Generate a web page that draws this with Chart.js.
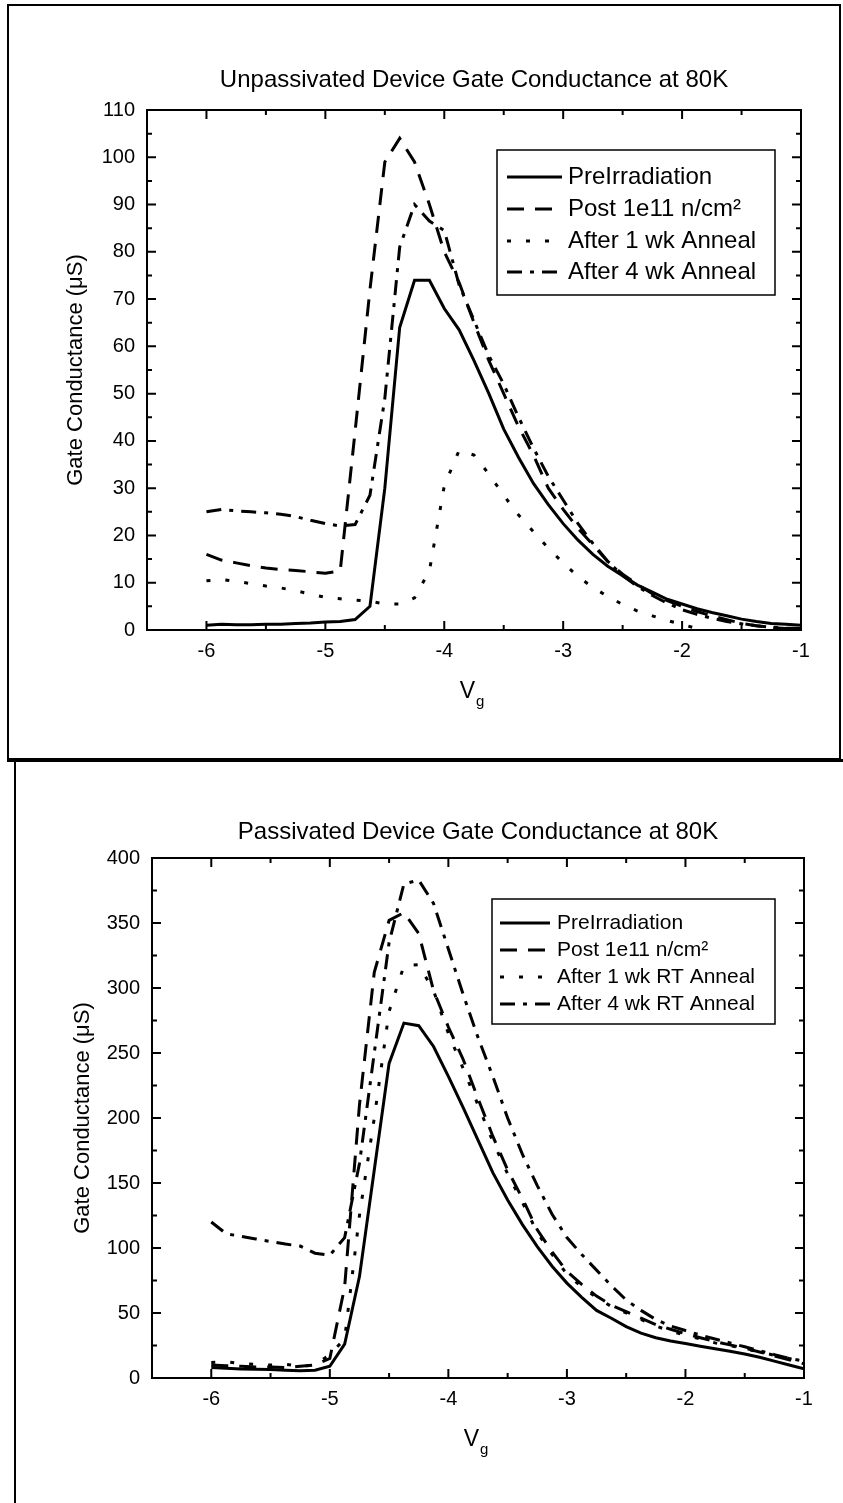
<!DOCTYPE html>
<html>
<head>
<meta charset="utf-8">
<script src="https://cdn.jsdelivr.net/npm/chart.js@4.4.1/dist/chart.umd.min.js"></script>
<style>
  body { margin: 0; background: #fff; width: 843px; height: 1503px; position: relative; overflow: hidden; }
  .frame { position: absolute; box-sizing: border-box; border: 2px solid #000; }
  #frame1 { left: 7px; top: 4px; width: 834px; height: 758px; border-bottom-width: 4px; }
  #frame2 { left: 14px; top: 759px; width: 900px; height: 800px; border-top-width: 3px; border-right: none; border-bottom: none; }
  canvas { position: absolute; left: 0; }
  #chartTop { top: 0; }
  #chartBottom { top: 760px; }
</style>
</head>
<body>
<div class="frame" id="frame1"></div>
<div class="frame" id="frame2"></div>
<canvas id="chartTop" width="843" height="760"></canvas>
<canvas id="chartBottom" width="843" height="743"></canvas>
<script>
// gate voltage (V) shared by every series
const vg = [-6, -5.875, -5.75, -5.625, -5.5, -5.375, -5.25, -5.125, -5, -4.875, -4.75, -4.625,
  -4.5, -4.375, -4.25, -4.125, -4, -3.875, -3.75, -3.625, -3.5, -3.375, -3.25, -3.125, -3,
  -2.875, -2.75, -2.625, -2.5, -2.375, -2.25, -2.125, -2, -1.875, -1.75, -1.625, -1.5,
  -1.375, -1.25, -1.125, -1];

// unpassivated device, gate conductance (uS)
const unpPre = [1.0, 1.2, 1.1, 1.1, 1.2, 1.2, 1.4, 1.5, 1.7, 1.8, 2.2, 5.0, 30, 64, 74, 74, 68,
  63.5, 57, 50, 42.5, 36.5, 31, 26.5, 22.5, 19, 16, 13.5, 11.5, 9.5, 8, 6.5, 5.5, 4.5, 3.7,
  3.0, 2.3, 1.8, 1.4, 1.2, 1.0];
const unpPost = [16, 14.8, 14.2, 13.6, 13.1, 12.8, 12.6, 12.3, 12.0, 12.5, 42, 72, 99, 104, 99,
  90, 80, 73.5, 65, 57, 50, 43, 37, 30, 25.5, 21.5, 18, 14.5, 11.8, 9.6, 7.7, 6.2, 5, 3.9,
  3.0, 2.2, 1.4, 0.9, 0.5, 0.3, 0.2];
const unp1wk = [10.4, 10.7, 10.3, 9.8, 9.3, 8.9, 8.3, 7.6, 6.9, 6.6, 6.3, 6.1, 5.5, 5.5, 6.8,
  12.5, 30.5, 38, 37, 33, 28.5, 24.3, 20.8, 17.3, 14.2, 11.3, 9.0, 7.1, 5.4, 4.0, 3.0, 2.0,
  1.2, 0.3, null, null, null, null, null, null, null];
const unp4wk = [25.0, 25.5, 25.2, 25.0, 24.8, 24.5, 24.0, 23.2, 22.5, 22.0, 22.3, 28.5, 49, 81,
  90, 86.5, 84.5, 73, 65.5, 58, 52, 45, 38.5, 32.5, 27.5, 22.5, 18.3, 14.5, 11.5, 9.2, 7.3,
  5.7, 4.3, 3.3, 2.5, 1.8, 1.3, 0.9, 0.6, 0.4, 0.3];

// passivated device, gate conductance (uS)
const pasPre = [8, 7.5, 7, 6.8, 6.5, 6, 5.5, 6, 9, 26, 78, 160, 242, 273, 271, 255, 232, 208,
  183, 158, 137, 118, 101, 86, 73, 62, 52, 46, 39.5, 34.5, 31, 28.5, 26.5, 24.5, 22.5, 20.5,
  18.5, 16, 13, 10, 7];
const pasPost = [10, 9.5, 9, 8.5, 8.5, 8, 9, 10, 15, 70, 210, 312, 352, 358, 342, 298, 270, 245,
  215, 186, 160, 138, 114, 97, 82, 72, 63, 56, 51, 46, 41, 37.5, 34, 31, 28, 25.5, 23, 20,
  17, 14, 11];
const pas1wk = [12, 12.5, 11, 10.5, 10, 10.5, 9, 10, 18, 30, 125, 200, 282, 317, 318, 298, 265,
  238, 210, 182, 157, 135, 112, 95, 80, 70, 62, 55, 50, 45, 40, 36, 33, 30, 27, 25, 22.5, 20,
  17.5, 15, 13];
const pas4wk = [120, 111, 109, 107, 105, 103, 101.5, 96, 94.5, 108, 165, 250, 335, 380, 383, 365,
  330, 295, 262, 232, 200, 172, 148, 126, 108, 95, 83, 71, 60, 52, 45, 40, 36.5, 33, 30, 27,
  24, 21, 18, 15, 13];

const namesTop = ['PreIrradiation', 'Post 1e11 n/cm²', 'After 1 wk Anneal', 'After 4 wk Anneal'];
const namesBottom = ['PreIrradiation', 'Post 1e11 n/cm²', 'After 1 wk RT Anneal', 'After 4 wk RT Anneal'];

const xMin = -6.5, xMax = -1;

// solid, dash, dot, dash-dot
const dashes = [[], [17, 11], [4, 15], [15, 8, 4, 8]];

Chart.defaults.font.family = "'Liberation Sans', Arial, sans-serif";
Chart.defaults.color = '#000';

// box round the plot with inward ticks on all four sides
const frameTicks = {
    id: 'frameTicks',
    afterDatasetsDraw(chart, args, opts) {
        const { ctx, chartArea: a, scales: { x, y } } = chart;
        ctx.save();
        ctx.strokeStyle = '#000';
        ctx.lineWidth = 2;
        ctx.strokeRect(a.left, a.top, a.right - a.left, a.bottom - a.top);
        ctx.beginPath();
        x.ticks.forEach(t => {
            const px = x.getPixelForValue(t.value);
            const len = Number.isInteger(t.value) ? 9 : 5;
            ctx.moveTo(px, a.bottom); ctx.lineTo(px, a.bottom - len);
            ctx.moveTo(px, a.top); ctx.lineTo(px, a.top + len);
        });
        y.ticks.forEach(t => {
            const py = y.getPixelForValue(t.value);
            const len = t.value % opts.major === 0 ? 9 : 5;
            ctx.moveTo(a.left, py); ctx.lineTo(a.left + len, py);
            ctx.moveTo(a.right, py); ctx.lineTo(a.right - len, py);
        });
        ctx.stroke();
        ctx.restore();
    }
};

// boxed legend inside the plot, built from the datasets
const boxLegend = {
    id: 'boxLegend',
    afterDraw(chart, args, o) {
        const ctx = chart.ctx;
        ctx.save();
        ctx.fillStyle = '#fff';
        ctx.fillRect(o.left, o.top, o.right - o.left, o.bottom - o.top);
        ctx.strokeStyle = '#000';
        ctx.lineWidth = 1.5;
        ctx.strokeRect(o.left, o.top, o.right - o.left, o.bottom - o.top);
        ctx.font = o.fontSize + "px 'Liberation Sans', Arial, sans-serif";
        ctx.textBaseline = 'middle';
        ctx.textAlign = 'left';
        chart.data.datasets.forEach((ds, i) => {
            const yy = o.rows[i];
            ctx.setLineDash(ds.borderDash);
            ctx.lineWidth = 3;
            ctx.beginPath();
            ctx.moveTo(o.sampleX0, yy);
            ctx.lineTo(o.sampleX1, yy);
            ctx.stroke();
            ctx.setLineDash([]);
            ctx.fillStyle = '#000';
            ctx.fillText(ds.label, o.textX, yy);
        });
        ctx.restore();
    }
};

// x axis title: V with subscript g
const vgTitle = {
    id: 'vgTitle',
    afterDraw(chart, args, o) {
        const { ctx, chartArea: a } = chart;
        const cx = (a.left + a.right) / 2;
        ctx.save();
        ctx.fillStyle = '#000';
        ctx.textBaseline = 'alphabetic';
        ctx.font = "23px 'Liberation Sans', Arial, sans-serif";
        ctx.textAlign = 'right';
        ctx.fillText('V', cx + 1, a.bottom + 68);
        ctx.font = "15px 'Liberation Sans', Arial, sans-serif";
        ctx.textAlign = 'left';
        ctx.fillText('g', cx + 2, a.bottom + 76);
        ctx.restore();
    }
};

function makeChart(id, title, names, series, cfg) {
    return new Chart(document.getElementById(id), {
        type: 'line',
        data: {
            datasets: series.map((s, i) => ({
                label: names[i],
                data: vg.map((v, k) => ({ x: v, y: s[k] })),
                borderColor: '#000',
                borderWidth: 3,
                borderDash: dashes[i],
                pointRadius: 0,
                tension: 0,
                fill: false
            }))
        },
        options: {
            responsive: false,
            animation: false,
            layout: { padding: { left: 0, top: 0, right: cfg.padRight, bottom: cfg.padBottom } },
            plugins: {
                legend: { display: false },
                tooltip: { enabled: false },
                title: {
                    display: true,
                    text: title,
                    fullSize: false,
                    font: { size: 24, weight: 'normal' },
                    padding: { top: cfg.titleTop, bottom: cfg.titleBottom }
                },
                frameTicks: { major: cfg.yMajor },
                boxLegend: cfg.legend
            },
            scales: {
                x: {
                    type: 'linear',
                    min: xMin,
                    max: xMax,
                    grid: { display: false, drawTicks: false },
                    border: { display: false },
                    ticks: {
                        stepSize: 0.5,
                        autoSkip: false,
                        maxRotation: 0,
                        padding: 9,
                        font: { size: 20 },
                        callback: v => Number.isInteger(v) ? v : ''
                    },
                    afterFit: s => { s.height = 100; }
                },
                y: {
                    min: 0,
                    max: cfg.yMax,
                    grid: { display: false, drawTicks: false },
                    border: { display: false },
                    ticks: {
                        stepSize: cfg.yMinor,
                        autoSkip: false,
                        padding: 12,
                        font: { size: 20 },
                        callback: v => v % cfg.yMajor === 0 ? v : ''
                    },
                    title: {
                        display: true,
                        text: 'Gate Conductance (μS)',
                        font: { size: 22 },
                        padding: { top: cfg.yTitlePad, bottom: 0 }
                    },
                    afterFit: s => { s.width = cfg.yWidth; }
                }
            }
        },
        plugins: [frameTicks, boxLegend, vgTitle]
    });
}

makeChart('chartTop', 'Unpassivated Device Gate Conductance at 80K', namesTop,
    [unpPre, unpPost, unp1wk, unp4wk], {
        padRight: 42, padBottom: 30, titleTop: 65.6, titleBottom: 15.6,
        yMax: 110, yMinor: 5, yMajor: 10, yWidth: 147, yTitlePad: 62.8,
        legend: { left: 497, top: 150, right: 775, bottom: 295, rows: [177, 209, 241, 272],
            sampleX0: 507, sampleX1: 562, textX: 568, fontSize: 24 }
    });

makeChart('chartBottom', 'Passivated Device Gate Conductance at 80K', namesBottom,
    [pasPre, pasPost, pas1wk, pas4wk], {
        padRight: 39, padBottom: 25, titleTop: 57.6, titleBottom: 11.6,
        yMax: 400, yMinor: 25, yMajor: 50, yWidth: 152, yTitlePad: 69.8,
        legend: { left: 492, top: 139, right: 775, bottom: 264, rows: [163, 190, 217, 244],
            sampleX0: 500, sampleX1: 550, textX: 557, fontSize: 21 }
    });
</script>
</body>
</html>
